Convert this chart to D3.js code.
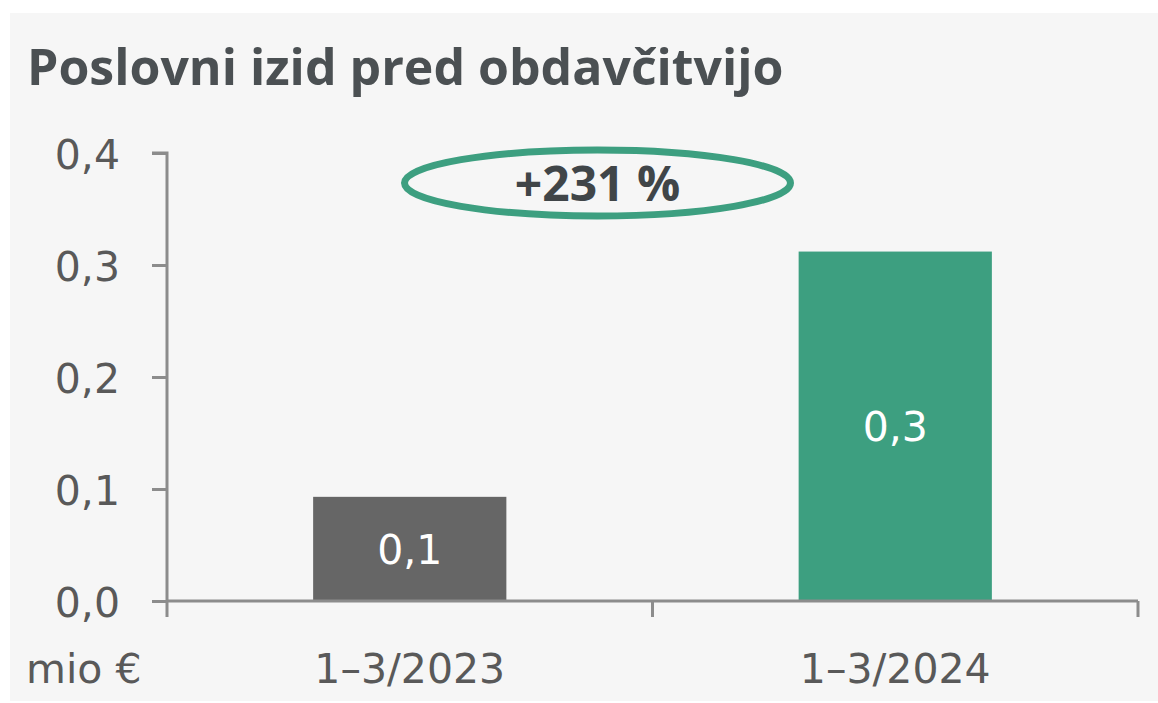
<!DOCTYPE html>
<html>
<head>
<meta charset="utf-8">
<script src="https://cdn.jsdelivr.net/npm/d3@7"></script>
<style>
  body { margin: 0; background: #fff; }
  svg { display: block; font-family: "DejaVu Sans", sans-serif; }
</style>
</head>
<body>
<svg class="graph" width="1158" height="703"></svg>
<script>
// data
var categories = ["1–3/2023", "1–3/2024"];
var values = [0.093, 0.312];
var labels = ["0,1", "0,3"];
var barColors = ["#666666", "#3d9f80"];
var yTicks = [0, 0.1, 0.2, 0.3, 0.4];
var title = "Poslovni izid pred obdavčitvijo";
var change = "+231 %";
var unit = "mio €";

var width = 1158, height = 703;
var margin = {top: 153, left: 167, bottom: 102, right: 20};
var textColor = "#595959";
var axisColor = "#8c8c8c";

var svg = d3.select(".graph");

svg.append("rect")
  .attr("x", 10).attr("y", 13)
  .attr("width", width - 10).attr("height", height - 15)
  .attr("fill", "#f6f6f6");

var x = d3.scaleBand()
  .domain(categories)
  .range([margin.left, width - margin.right])
  .paddingInner(0.602)
  .paddingOuter(0.301);

var y = d3.scaleLinear()
  .domain([0, 0.4])
  .range([height - margin.bottom, margin.top]);

var fmt = function (d) { return d3.format(".1f")(d).replace(".", ","); };

// title
svg.append("text")
  .attr("x", 27).attr("y", 85)
  .attr("fill", "#4b5053")
  .attr("font-family", "'Open Sans', sans-serif")
  .attr("font-size", 50)
  .attr("font-weight", "bold")
  .text(title);

// bars
svg.append("g").selectAll("rect")
  .data(values)
  .enter().append("rect")
  .attr("x", function (d, i) { return x(categories[i]); })
  .attr("y", function (d) { return y(d); })
  .attr("width", x.bandwidth())
  .attr("height", function (d) { return y(0) - y(d); })
  .attr("fill", function (d, i) { return barColors[i]; });

// bar labels
svg.append("g").selectAll("text")
  .data(values)
  .enter().append("text")
  .attr("x", function (d, i) { return x(categories[i]) + x.bandwidth() / 2; })
  .attr("y", function (d) { return (y(d) + y(0)) / 2; })
  .attr("dy", "0.36em")
  .attr("text-anchor", "middle")
  .attr("fill", "#fff")
  .attr("font-size", 41)
  .text(function (d, i) { return labels[i]; });

// y axis
var yAxis = svg.append("g")
  .attr("transform", "translate(" + margin.left + ",0)")
  .call(d3.axisLeft(y).tickValues(yTicks).tickFormat(fmt).tickSize(15).tickPadding(32));

yAxis.select(".domain").attr("stroke", axisColor).attr("stroke-width", 3)
  .attr("d", "M-15," + y(0.4) + "H0V" + y(0));
yAxis.selectAll(".tick line").attr("stroke", axisColor).attr("stroke-width", 3);
yAxis.selectAll(".tick text")
  .attr("fill", textColor)
  .attr("font-size", 41)
  .attr("dy", "0.38em");
yAxis.attr("font-family", null).attr("font-size", null);

// x axis: ticks on the band edges
var edges = [x.range()[0]].concat(categories.map(function (c) { return x(c) - x.step() * x.paddingOuter() + x.step(); }));
var xAxis = svg.append("g").attr("transform", "translate(0," + y(0) + ")");
xAxis.append("line")
  .attr("x1", x.range()[0]).attr("x2", x.range()[1]);
xAxis.selectAll(".edge")
  .data(edges)
  .enter().append("line")
  .attr("class", "edge")
  .attr("x1", function (d) { return d; }).attr("x2", function (d) { return d; })
  .attr("y1", 0).attr("y2", 16);
xAxis.selectAll("line").attr("stroke", axisColor).attr("stroke-width", 3);

xAxis.selectAll(".cat")
  .data(categories)
  .enter().append("text")
  .attr("class", "cat")
  .attr("x", function (d) { return x(d) + x.bandwidth() / 2; })
  .attr("y", 82)
  .attr("text-anchor", "middle")
  .attr("fill", textColor)
  .attr("font-size", 41)
  .text(function (d) { return d; });

svg.append("text")
  .attr("x", 26).attr("y", y(0) + 82)
  .attr("fill", textColor)
  .attr("font-size", 41)
  .text(unit);

// change annotation
var cx = (x.range()[0] + x.range()[1]) / 2 - 55;
svg.append("ellipse")
  .attr("cx", cx).attr("cy", 183)
  .attr("rx", 193).attr("ry", 33)
  .attr("fill", "none")
  .attr("stroke", "#3d9f80")
  .attr("stroke-width", 7);
svg.append("text")
  .attr("x", cx).attr("y", 184)
  .attr("dy", "0.36em")
  .attr("text-anchor", "middle")
  .attr("fill", "#404548")
  .attr("font-family", "'Open Sans', sans-serif")
  .attr("font-size", 48)
  .attr("font-weight", "bold")
  .text(change);
</script>
</body>
</html>
